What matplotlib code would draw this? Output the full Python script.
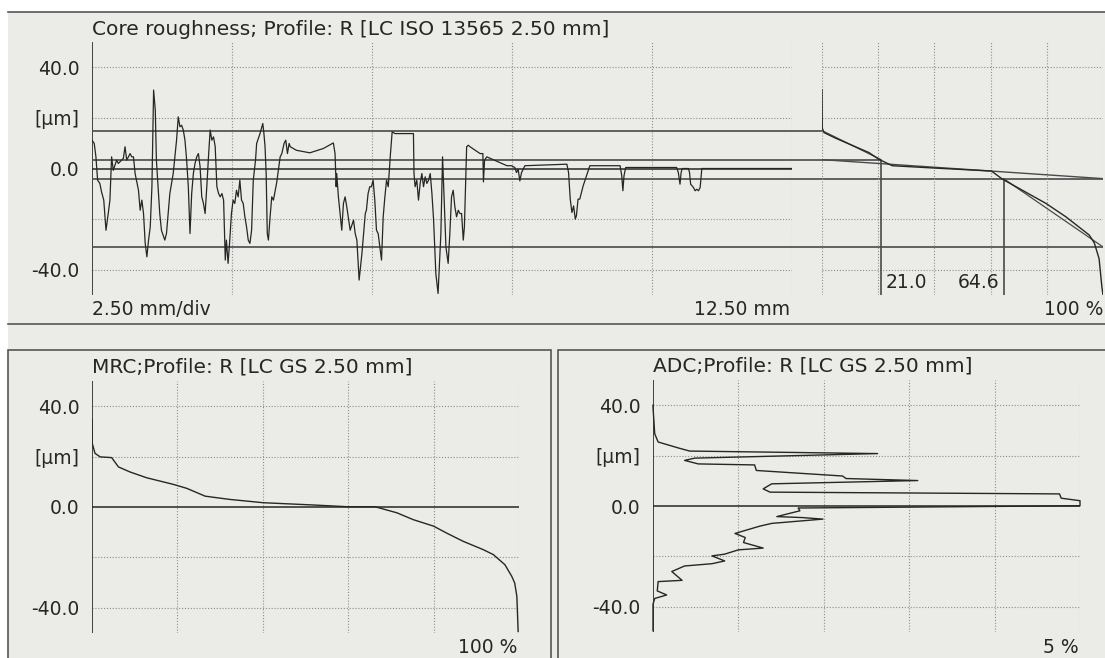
"""Core roughness printout: profile + material ratio curve (MRC) + amplitude density (ADC)."""
import numpy as np
import matplotlib
matplotlib.use("Agg")
import matplotlib.pyplot as plt
from matplotlib.patches import Rectangle

plt.rcParams.update({"font.family": ["DejaVu Sans"], "font.size": 13.5})

W, H = 1105, 658
BG = "#ebebe8"; INK = "#262626"; CORE = "#4a4a4a"; GRID = "#8e8e8e"

# ---------- data ----------
prof_mm = [0.00, 0.04, 0.07, 0.10, 0.14, 0.17, 0.21, 0.25, 0.29, 0.32, 0.35, 0.38, 0.41, 0.44, 0.47, 0.53, 0.56,
           0.59, 0.62, 0.65, 0.68, 0.71, 0.74, 0.77, 0.83, 0.86, 0.89, 0.92, 0.95, 0.98, 1.01, 1.04, 1.07, 1.10,
           1.13, 1.15, 1.18, 1.21, 1.24, 1.30, 1.33, 1.36, 1.39, 1.45, 1.51, 1.54, 1.57, 1.60, 1.63, 1.66, 1.69,
           1.72, 1.75, 1.78, 1.81, 1.84, 1.87, 1.90, 1.93, 1.96, 1.99, 2.02, 2.05, 2.08, 2.11, 2.14, 2.17, 2.20,
           2.23, 2.26, 2.29, 2.32, 2.35, 2.38, 2.40, 2.43, 2.46, 2.49, 2.52, 2.55, 2.58, 2.61, 2.64, 2.67, 2.70,
           2.73, 2.76, 2.79, 2.82, 2.85, 2.88, 2.92, 2.94, 3.00, 3.05, 3.07, 3.09, 3.11, 3.13, 3.15, 3.18, 3.21,
           3.24, 3.30, 3.36, 3.39, 3.43, 3.46, 3.49, 3.52, 3.54, 3.65, 3.89, 4.13, 4.31, 4.34, 4.36, 4.37, 4.40,
           4.43, 4.46, 4.49, 4.52, 4.55, 4.61, 4.67, 4.70, 4.73, 4.77, 4.82, 4.85, 4.88, 4.90, 4.93, 4.96, 4.99,
           5.02, 5.05, 5.08, 5.11, 5.14, 5.17, 5.20, 5.23, 5.26, 5.29, 5.33, 5.36, 5.41, 5.74, 5.75, 5.77, 5.80,
           5.83, 5.86, 5.89, 5.92, 5.95, 5.98, 6.01, 6.04, 6.07, 6.10, 6.14, 6.18, 6.23, 6.26, 6.30, 6.32, 6.36,
           6.39, 6.42, 6.45, 6.48, 6.51, 6.54, 6.57, 6.60, 6.63, 6.65, 6.69, 6.72, 6.75, 6.93, 6.98, 6.99, 7.01,
           7.05, 7.41, 7.49, 7.55, 7.58, 7.61, 7.64, 7.67, 7.70, 7.73, 8.48, 8.51, 8.54, 8.57, 8.60, 8.63, 8.65,
           8.68, 8.71, 8.77, 8.83, 8.89, 9.43, 9.46, 9.48, 9.50, 9.53, 10.44, 10.47, 10.50, 10.52, 10.54, 10.65,
           10.67, 10.69, 10.74, 10.77, 10.80, 10.83, 10.86, 10.89, 12.49]
prof_um = [11.2, 9.9, 4.6, -4.6, -5.9, -9.2, -12.5, -24.4, -17.8, -12.5, 4.6, -0.7, 1.3, 3.3, 2.0, 3.3, 4.0,
           8.6, 3.3, 4.6, 5.9, 4.6, 4.6, -2.0, -8.6, -16.5, -12.5, -17.8, -29.6, -34.9, -28.3, -23.1, -7.2, 31.0,
           23.1, 3.3, -7.2, -17.8, -24.4, -28.3, -25.7, -17.8, -9.9, -2.0, 11.2, 20.4, 16.5, 17.1, 15.2, 11.2, 3.3,
           -7.2, -25.7, -9.9, -2.0, 2.0, 4.6, 5.9, 0.7, -11.2, -13.8, -17.8, -7.2, 4.6, 15.2, 11.2, 12.5, 8.6,
           -7.2, -9.9, -11.2, -9.9, -12.5, -36.2, -28.3, -37.5, -28.3, -17.8, -12.5, -13.8, -8.6, -11.2, -4.6, -12.5, -13.8,
           -19.1, -23.1, -28.3, -29.6, -24.4, -4.6, 3.3, 9.9, 13.8, 17.8, 13.8, 8.6, -2.0, -25.7, -28.3, -19.1, -11.2,
           -12.5, -5.3, 4.6, 5.9, 9.9, 11.2, 5.9, 9.9, 8.6, 7.2, 6.2, 7.9, 10.1, 5.9, -7.2, -2.0, -11.2,
           -17.8, -24.4, -13.8, -11.2, -15.2, -24.4, -20.4, -25.7, -28.3, -44.1, -33.6, -25.7, -17.8, -16.5, -9.9, -7.2, -7.2,
           -4.6, -12.5, -24.4, -25.7, -31.0, -36.2, -19.1, -11.2, -4.6, -7.2, 5.9, 14.5, 13.8, 13.8, -2.0, -7.2, -4.6,
           -12.5, -5.9, -2.0, -7.2, -3.3, -5.9, -4.6, -2.0, -9.9, -20.4, -41.5, -49.4, -25.7, 4.6, -19.1, -31.0, -37.5,
           -25.7, -11.2, -8.6, -15.2, -19.1, -16.5, -17.8, -17.8, -28.3, -23.1, 8.6, 9.2, 8.6, 5.9, 5.9, -5.3, 3.3,
           4.6, 1.1, 1.1, 0.4, -1.6, -0.3, -4.9, -1.6, -0.3, 1.1, 1.7, -1.6, -12.1, -17.4, -14.8, -20.0, -18.7,
           -12.1, -12.1, -6.9, -2.9, 1.1, 1.1, -2.9, -8.8, -2.9, 0.4, 0.4, -1.6, -6.2, -1.6, 0.0, 0.0,
           -1.6, -6.2, -7.5, -8.8, -8.2, -8.8, -7.5, 0.0, 0.0]

# material ratio curve of the core-roughness panel (ISO 13565 filter)
mrc_top_pct = [0.0, 0.1, 0.7, 4.8, 16.7, 20.3, 25.0, 38.0, 60.3, 64.2, 79.7, 86.8, 95.1, 96.9, 98.6, 99.6, 100.0]
mrc_top_um = [31.1, 15.9, 14.2, 12.0, 6.3, 3.6, 1.1, 0.3, -1.0, -4.2, -13.8, -19.1, -26.3, -29.4, -35.6, -46.8, -50.0]

# core-roughness construction
rpk_level, rk_top, rk_bot, rvk_level = 15.0, 3.5, -4.0, -31.0
mr1, mr2 = 21.0, 64.6

# MRC (GS filter)
mrc_pct = [0.0, 0.05, 0.7, 1.9, 4.6, 6.2, 8.9, 12.8, 19.0, 22.2, 26.5, 32.3, 40.1, 51.8, 60.0, 66.3, 71.4, 75.2,
           80.0, 83.0, 86.9, 91.6, 94.0, 96.7, 98.3, 99.0, 99.5, 99.8]
mrc_um = [34.6, 25.3, 21.3, 19.9, 19.6, 15.9, 13.9, 11.6, 9.0, 7.4, 4.3, 3.0, 1.7, 0.8, 0.1, 0.1, -2.3, -5.0,
          -7.6, -10.3, -13.6, -16.9, -18.9, -22.9, -27.5, -30.2, -35.5, -49.4]

# ADC (GS filter), traced top to bottom
adc_pct = [0.00, 0.00, 0.02, 0.06, 0.30, 0.43, 2.63, 0.49, 0.37, 0.53, 1.19, 1.21, 2.22, 2.26, 3.10, 1.39,
           1.29, 1.37, 4.76, 4.78, 5.00, 5.00, 1.70, 1.72, 1.45, 1.75, 1.99, 1.39, 1.25, 0.96, 1.08, 1.06,
           1.29, 1.00, 0.84, 0.69, 0.84, 0.69, 0.37, 0.22, 0.34, 0.06, 0.05, 0.16, 0.02, 0.00, 0.00]
adc_um = [40.0, 39.3, 28.7, 25.4, 23.0, 21.8, 20.8, 19.0, 18.1, 16.7, 16.3, 14.1, 11.9, 10.9, 10.1, 8.8,
          6.8, 5.5, 4.8, 3.1, 2.1, 0.1, -0.8, -1.9, -4.2, -4.6, -5.2, -6.9, -8.0, -10.9, -12.5, -14.5,
          -16.7, -17.4, -19.1, -19.8, -21.8, -22.9, -23.8, -26.0, -29.5, -30.0, -33.7, -35.3, -36.7, -39.0, -49.5]

um_ticks = [40, 20, 0, -40]
um_labels = ["40.0", "[µm]", "0.0", "-40.0"]
um_grid = [40, 20, -20, -40]

# ---------- layout helpers ----------
def rect(x0, y0, x1, y1):
    return [x0 / W, 1 - y1 / H, (x1 - x0) / W, (y1 - y0) / H]

def ftext(x, y, s, **kw):
    fig.text(x / W, 1 - y / H, s, color=INK, **kw)

def frame(ax, xmax, ygrid_x, axis_solid=True, zero=True):
    ax.set_ylim(-50, 50); ax.set_xlim(0, xmax)
    ax.set_facecolor("none")
    for s in ax.spines.values(): s.set_visible(False)
    ax.set_xticks([])
    for x in ygrid_x:
        ax.axvline(x, color=GRID, lw=0.8, ls=(0, (1, 1.6)))
    for v in um_grid:
        ax.axhline(v, color=GRID, lw=0.8, ls=(0, (1, 1.6)))
    if axis_solid:
        ax.axvline(0, color=INK, lw=1.2)
    if zero:
        ax.axhline(0, color=INK, lw=1.1)

fig = plt.figure(figsize=(W / 100, H / 100), dpi=100)
fig.patch.set_facecolor("white")
fig.patches.append(Rectangle((8 / W, 0), 1, 1 - 12 / H, transform=fig.transFigure, facecolor=BG, edgecolor="none", zorder=-5))
for y in (12, 324):
    fig.add_artist(plt.Line2D([8 / W, 1], [1 - y / H] * 2, color="#555555", lw=1.2))
for x0, x1 in ((8, 551), (558, 1112)):
    fig.patches.append(Rectangle((x0 / W, -0.1), (x1 - x0) / W, 0.1 + 1 - 350 / H, transform=fig.transFigure,
                                 facecolor="none", edgecolor="#555555", lw=1.2))

# ---------- top: profile ----------
ax_p = fig.add_axes(rect(92, 42, 792, 295))
frame(ax_p, 12.5, [2.5, 5.0, 7.5, 10.0, 12.5])
ax_p.set_yticks(um_ticks, um_labels)
ax_p.tick_params(axis="y", length=0, pad=9, colors=INK)
ax_p.plot(prof_mm, prof_um, color=INK, lw=0.9, zorder=4)

ax_m = fig.add_axes(rect(822, 42, 1103, 295))
frame(ax_m, 100, [0, 20, 40, 60, 80, 100], axis_solid=False, zero=False)
ax_m.set_yticks([])
ax_m.plot(mrc_top_pct, mrc_top_um, color=INK, lw=1.0, zorder=4)

def top_x(p):
    # percent on the MRC panel -> mm on the profile panel (lines run across both)
    d = ax_m.transData.transform((p, 0))
    return ax_p.transData.inverted().transform(d)[0]

kw = dict(color=CORE, lw=1.2, clip_on=False, zorder=3)
ax_p.hlines(rpk_level, 0, top_x(0), **kw)
ax_p.hlines(rk_top, 0, top_x(mr1), **kw)
ax_p.hlines(rk_bot, 0, top_x(100), **kw)
ax_p.hlines(rvk_level, 0, top_x(100), **kw)
ax_m.vlines(mr1, -50, rk_top, **kw)
ax_m.vlines(mr2, -50, rk_bot, **kw)
ax_m.plot([0, 100], [rk_top, rk_bot], color=CORE, lw=1.0)
ax_m.plot([0, mr1], [rpk_level, rk_top], color=CORE, lw=0.9)
ax_m.plot([mr2, 100], [rk_bot, rvk_level], color=CORE, lw=0.9)
for v in (mr1, mr2):
    ax_m.annotate(f"{v:.1f}", (v, -50), xytext=(5 if v == mr1 else -4, 3), textcoords="offset pixels",
                  ha="left" if v == mr1 else "right", va="bottom", color=INK, fontsize=13.5)

ftext(92, 35, "Core roughness; Profile: R [LC ISO 13565 2.50 mm]", fontsize=14.5)
ftext(92, 315, "2.50 mm/div")
ftext(790, 315, "12.50 mm", ha="right")
ftext(1103, 315, "100 %", ha="right")

# ---------- bottom left: MRC ----------
ax_r = fig.add_axes(rect(92, 381, 519, 633))
frame(ax_r, 100, [20, 40, 60, 80, 100])
ax_r.set_yticks(um_ticks, um_labels)
ax_r.tick_params(axis="y", length=0, pad=9, colors=INK)
ax_r.plot(mrc_pct, mrc_um, color=INK, lw=1.0, zorder=4)
ftext(92, 373, "MRC;Profile: R [LC GS 2.50 mm]", fontsize=14.5)
ftext(517, 653, "100 %", ha="right")

# ---------- bottom right: ADC ----------
ax_a = fig.add_axes(rect(653, 380, 1080, 632))
frame(ax_a, 5, [1, 2, 3, 4, 5])
ax_a.set_yticks(um_ticks, um_labels)
ax_a.tick_params(axis="y", length=0, pad=9, colors=INK)
ax_a.plot(adc_pct, adc_um, color=INK, lw=1.0, zorder=4, clip_on=False)
ftext(653, 372, "ADC;Profile: R [LC GS 2.50 mm]", fontsize=14.5)
ftext(1079, 653, "5 %", ha="right")

fig.savefig("out.png", dpi=100)
